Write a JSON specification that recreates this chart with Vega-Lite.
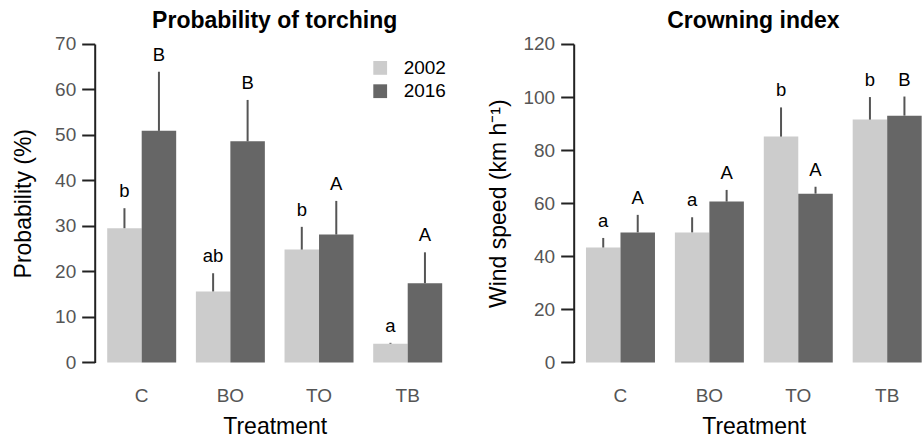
{
  "$schema": "https://vega.github.io/schema/vega-lite/v6.json",
  "padding": {"left": 12.7, "top": 10, "right": 0, "bottom": 3},
  "bounds": "flush",
  "spacing": 119,
  "config": {
    "font": "Liberation Sans",
    "view": {"stroke": null},
    "axis": {"grid": false}
  },
  "resolve": {
    "scale": {"x": "independent", "y": "independent", "xOffset": "independent"},
    "legend": {"color": "independent"}
  },
  "hconcat": [
    {
      "width": 360,
      "height": 318.4,
      "title": {"text": "Probability of torching", "fontSize": 23, "fontWeight": "bold", "color": "black", "anchor": "middle", "frame": "group", "baseline": "alphabetic", "offset": -16.2},
      "data": {"values": [
        {"treatment": "C", "year": "2002", "value": 29.5, "upper": 33.9, "letter": "b"},
        {"treatment": "C", "year": "2016", "value": 50.9, "upper": 63.9, "letter": "B"},
        {"treatment": "BO", "year": "2002", "value": 15.6, "upper": 19.6, "letter": "ab"},
        {"treatment": "BO", "year": "2016", "value": 48.6, "upper": 57.7, "letter": "B"},
        {"treatment": "TO", "year": "2002", "value": 24.8, "upper": 29.8, "letter": "b"},
        {"treatment": "TO", "year": "2016", "value": 28.1, "upper": 35.5, "letter": "A"},
        {"treatment": "TB", "year": "2002", "value": 4.1, "upper": 4.3, "letter": "a"},
        {"treatment": "TB", "year": "2016", "value": 17.4, "upper": 24.2, "letter": "A"}
      ]},
      "encoding": {
        "x": {"field": "treatment", "type": "nominal", "sort": ["C", "BO", "TO", "TB"],
          "scale": {"paddingInner": 0.222, "paddingOuter": 0.141},
          "axis": {"title": "Treatment", "labelAngle": 0, "domain": false, "ticks": false, "labelFontSize": 19, "labelColor": "#555555", "labelPadding": 24, "titleFontSize": 23, "titleFontWeight": "normal", "titleColor": "black", "titlePadding": 10}},
        "xOffset": {"field": "year", "type": "nominal", "scale": {"paddingInner": 0, "paddingOuter": 0}}
      },
      "layer": [
        {
          "mark": {"type": "bar"},
          "encoding": {
            "y": {"field": "value", "type": "quantitative", "title": "Probability (%)",
              "scale": {"domain": [0, 70], "nice": false},
              "axis": {"values": [0, 10, 20, 30, 40, 50, 60, 70], "tickSize": 13, "tickWidth": 2, "tickColor": "#222222", "domainColor": "#222222", "domainWidth": 2, "labelFontSize": 19, "labelColor": "#555555", "labelPadding": 6, "titleFontSize": 23, "titleFontWeight": "normal", "titleColor": "black", "titlePadding": 18.7}},
            "color": {"field": "year", "type": "nominal",
              "scale": {"domain": ["2002", "2016"], "range": ["#cccccc", "#666666"]},
              "legend": {"orient": "none", "legendX": 276, "legendY": 14.4, "title": null, "padding": 0, "symbolType": "square", "symbolSize": 190, "symbolStrokeWidth": 0, "labelFontSize": 19, "labelColor": "black", "labelOffset": 14, "rowPadding": 3.3}}
          }
        },
        {
          "mark": {"type": "rule", "color": "#555555", "strokeWidth": 2},
          "encoding": {
            "y": {"field": "value", "type": "quantitative", "title": "Probability (%)"},
            "y2": {"field": "upper"}
          }
        },
        {
          "mark": {"type": "text", "fontSize": 18.5, "dy": -11, "baseline": "alphabetic", "color": "black"},
          "encoding": {
            "y": {"field": "upper", "type": "quantitative", "title": "Probability (%)"},
            "text": {"field": "letter"}
          }
        }
      ]
    },
    {
      "width": 349.3,
      "height": 318.4,
      "title": {"text": "Crowning index", "fontSize": 23, "fontWeight": "bold", "color": "black", "anchor": "middle", "frame": "group", "baseline": "alphabetic", "offset": -16.2, "dx": 5},
      "data": {"values": [
        {"treatment": "C", "year": "2002", "value": 43.3, "upper": 46.9, "letter": "a"},
        {"treatment": "C", "year": "2016", "value": 49.0, "upper": 55.6, "letter": "A"},
        {"treatment": "BO", "year": "2002", "value": 49.0, "upper": 54.7, "letter": "a"},
        {"treatment": "BO", "year": "2016", "value": 60.6, "upper": 65.0, "letter": "A"},
        {"treatment": "TO", "year": "2002", "value": 85.1, "upper": 96.1, "letter": "b"},
        {"treatment": "TO", "year": "2016", "value": 63.6, "upper": 66.2, "letter": "A"},
        {"treatment": "TB", "year": "2002", "value": 91.5, "upper": 100.0, "letter": "b"},
        {"treatment": "TB", "year": "2016", "value": 93.0, "upper": 100.2, "letter": "B"}
      ]},
      "encoding": {
        "x": {"field": "treatment", "type": "nominal", "sort": ["C", "BO", "TO", "TB"],
          "scale": {"paddingInner": 0.224, "paddingOuter": 0.0765, "align": 0.904},
          "axis": {"title": "Treatment", "labelAngle": 0, "domain": false, "ticks": false, "labelFontSize": 19, "labelColor": "#555555", "labelPadding": 24, "titleFontSize": 23, "titleFontWeight": "normal", "titleColor": "black", "titlePadding": 10, "titleX": 180}},
        "xOffset": {"field": "year", "type": "nominal", "scale": {"paddingInner": 0, "paddingOuter": 0}}
      },
      "layer": [
        {
          "mark": {"type": "bar"},
          "encoding": {
            "y": {"field": "value", "type": "quantitative", "title": "Wind speed (km h⁻¹)",
              "scale": {"domain": [0, 120], "nice": false},
              "axis": {"values": [0, 20, 40, 60, 80, 100, 120], "tickSize": 13, "tickWidth": 2, "tickColor": "#222222", "domainColor": "#222222", "domainWidth": 2, "labelFontSize": 19, "labelColor": "#555555", "labelPadding": 6, "titleFontSize": 23, "titleFontWeight": "normal", "titleColor": "black", "titlePadding": 12}},
            "color": {"field": "year", "type": "nominal",
              "scale": {"domain": ["2002", "2016"], "range": ["#cccccc", "#666666"]},
              "legend": null}
          }
        },
        {
          "mark": {"type": "rule", "color": "#555555", "strokeWidth": 2},
          "encoding": {
            "y": {"field": "value", "type": "quantitative", "title": "Wind speed (km h⁻¹)"},
            "y2": {"field": "upper"}
          }
        },
        {
          "mark": {"type": "text", "fontSize": 18.5, "dy": -11, "baseline": "alphabetic", "color": "black"},
          "encoding": {
            "y": {"field": "upper", "type": "quantitative", "title": "Wind speed (km h⁻¹)"},
            "text": {"field": "letter"}
          }
        }
      ]
    }
  ]
}
